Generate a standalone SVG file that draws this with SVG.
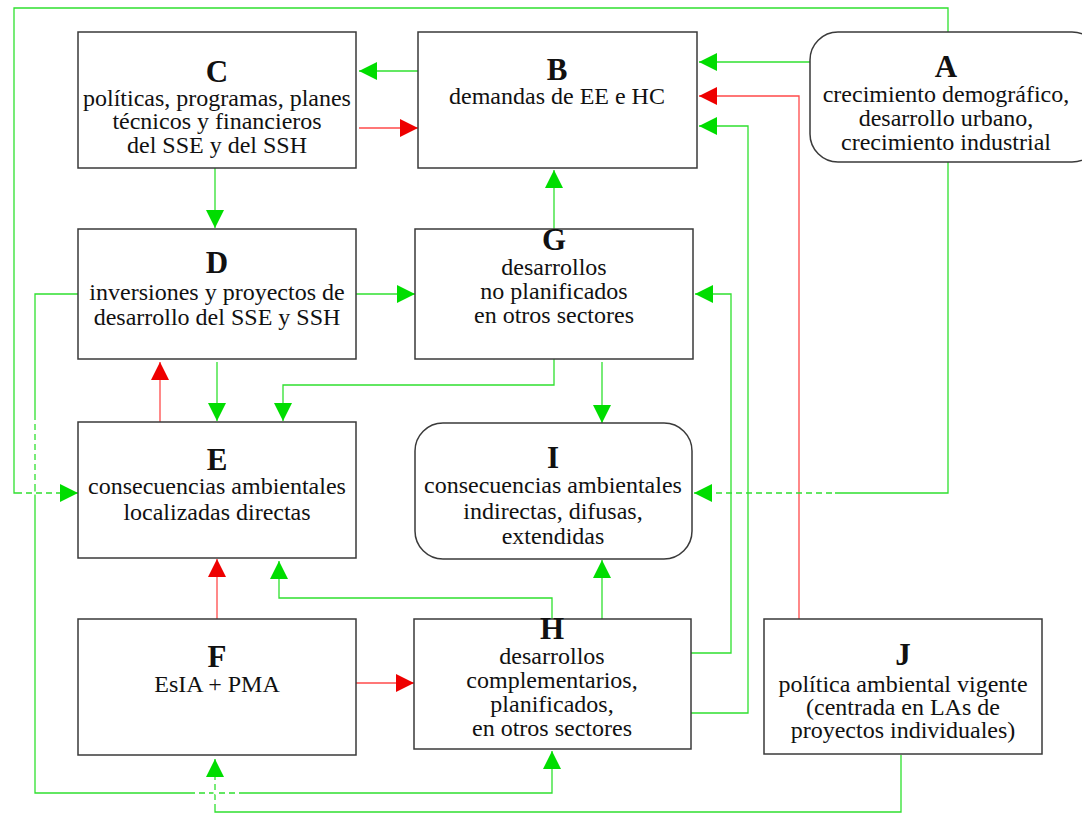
<svg xmlns="http://www.w3.org/2000/svg" width="1082" height="814" viewBox="0 0 1082 814">
  <style>
    .box { fill: #ffffff; stroke: #3a3a3a; stroke-width: 1.5; }
    .t { font-family: "Liberation Serif", "Times New Roman", serif; text-anchor: middle; fill: #111111; }
    .h { font-size: 31px; font-weight: bold; }
    .b { font-size: 24px; }
    .g { fill: none; stroke: #2fe02f; stroke-width: 1.3; marker-end: url(#ag); }
    .r { fill: none; stroke: #ff4a4a; stroke-width: 1.3; marker-end: url(#ar); }
    .gap { fill: none; stroke: #ffffff; stroke-width: 3; stroke-dasharray: 4 6; }
  </style>
  <defs>
    <marker id="ag" markerUnits="userSpaceOnUse" markerWidth="18" markerHeight="18" refX="18" refY="9" orient="auto">
      <path d="M0,0 L18,9 L0,18 Z" fill="#00dd00"/>
    </marker>
    <marker id="ar" markerUnits="userSpaceOnUse" markerWidth="18" markerHeight="18" refX="18" refY="9" orient="auto">
      <path d="M0,0 L18,9 L0,18 Z" fill="#ee0000"/>
    </marker>
  </defs>

  <rect width="1082" height="814" fill="#ffffff"/>

  <!-- connectors -->
  <g id="connectors">
    <path class="g" d="M418,71 H359"/>
    <path class="r" d="M359,128 H418"/>
    <path class="g" d="M215,168 V228"/>
    <path class="g" d="M810,62 H699"/>
    <path class="r" d="M799,619 V96 H699"/>
    <path class="g" d="M691,713 H748 V126 H699"/>
    <path class="g" d="M691,653 H731 V294 H695"/>
    <path class="g" d="M554,229 V170"/>
    <path class="g" d="M356,294 H415"/>
    <path class="g" d="M217,362 V421"/>
    <path class="r" d="M160,422 V362"/>
    <path class="g" d="M554,359 V385 H283 V421"/>
    <path class="g" d="M602,362 V423"/>
    <path class="g" d="M948,162 V493 H694"/>
    <path class="g" d="M948,32 V8 H14 V493 H78"/>
    <path class="g" d="M78,294 H35 V793 H552 V751"/>
    <path class="g" d="M901,755 V812 H215 V759"/>
    <path class="g" d="M552,619 V598 H279 V561"/>
    <path class="g" d="M602,619 V560"/>
    <path class="r" d="M217,619 V559"/>
    <path class="r" d="M356,683 H414"/>
    <!-- breaks where lines cross -->
    <path class="gap" d="M22,493 H60"/>
    <path class="gap" d="M35,420 V485"/>
    <path class="gap" d="M712,493 H835"/>
    <path class="gap" d="M195,793 H240"/>
    <path class="gap" d="M215,780 V806"/>
  </g>

  <g id="node-A">
    <rect class="box" x="810" y="32" width="290" height="130" rx="28"/>
    <text class="t h" x="946" y="77">A</text>
    <text class="t b" x="946" y="102">crecimiento demográfico,</text>
    <text class="t b" x="946" y="126">desarrollo urbano,</text>
    <text class="t b" x="946" y="150">crecimiento industrial</text>
  </g>

  <g id="node-B">
    <rect class="box" x="418" y="32" width="279" height="136"/>
    <text class="t h" x="557" y="80">B</text>
    <text class="t b" x="557" y="104">demandas de EE e HC</text>
  </g>

  <g id="node-C">
    <rect class="box" x="78" y="32" width="278" height="136"/>
    <text class="t h" x="217" y="82">C</text>
    <text class="t b" x="217" y="106">políticas, programas, planes</text>
    <text class="t b" x="217" y="129">técnicos y financieros</text>
    <text class="t b" x="217" y="153">del SSE y del SSH</text>
  </g>

  <g id="node-D">
    <rect class="box" x="78" y="229" width="278" height="130"/>
    <text class="t h" x="217" y="273">D</text>
    <text class="t b" x="217" y="300">inversiones y proyectos de</text>
    <text class="t b" x="217" y="325">desarrollo del SSE y SSH</text>
  </g>

  <g id="node-G">
    <rect class="box" x="415" y="229" width="278" height="130"/>
    <text class="t h" x="554" y="250">G</text>
    <text class="t b" x="554" y="275">desarrollos</text>
    <text class="t b" x="554" y="299">no planificados</text>
    <text class="t b" x="554" y="323">en otros sectores</text>
  </g>

  <g id="node-E">
    <rect class="box" x="78" y="422" width="278" height="136"/>
    <text class="t h" x="217" y="470">E</text>
    <text class="t b" x="217" y="494">consecuencias ambientales</text>
    <text class="t b" x="217" y="520">localizadas directas</text>
  </g>

  <g id="node-I">
    <rect class="box" x="415" y="423" width="277" height="136" rx="28"/>
    <text class="t h" x="553" y="468">I</text>
    <text class="t b" x="553" y="493">consecuencias ambientales</text>
    <text class="t b" x="553" y="519">indirectas, difusas,</text>
    <text class="t b" x="553" y="544">extendidas</text>
  </g>

  <g id="node-F">
    <rect class="box" x="78" y="619" width="278" height="136"/>
    <text class="t h" x="217" y="667">F</text>
    <text class="t b" x="217" y="692">EsIA + PMA</text>
  </g>

  <g id="node-H">
    <rect class="box" x="414" y="619" width="277" height="130"/>
    <text class="t h" x="552" y="639">H</text>
    <text class="t b" x="552" y="664">desarrollos</text>
    <text class="t b" x="552" y="688">complementarios,</text>
    <text class="t b" x="552" y="712">planificados,</text>
    <text class="t b" x="552" y="736">en otros sectores</text>
  </g>

  <g id="node-J">
    <rect class="box" x="764" y="619" width="278" height="135"/>
    <text class="t h" x="903" y="665">J</text>
    <text class="t b" x="903" y="692">política ambiental vigente</text>
    <text class="t b" x="903" y="715">(centrada en LAs de</text>
    <text class="t b" x="903" y="738">proyectos individuales)</text>
  </g>
</svg>
